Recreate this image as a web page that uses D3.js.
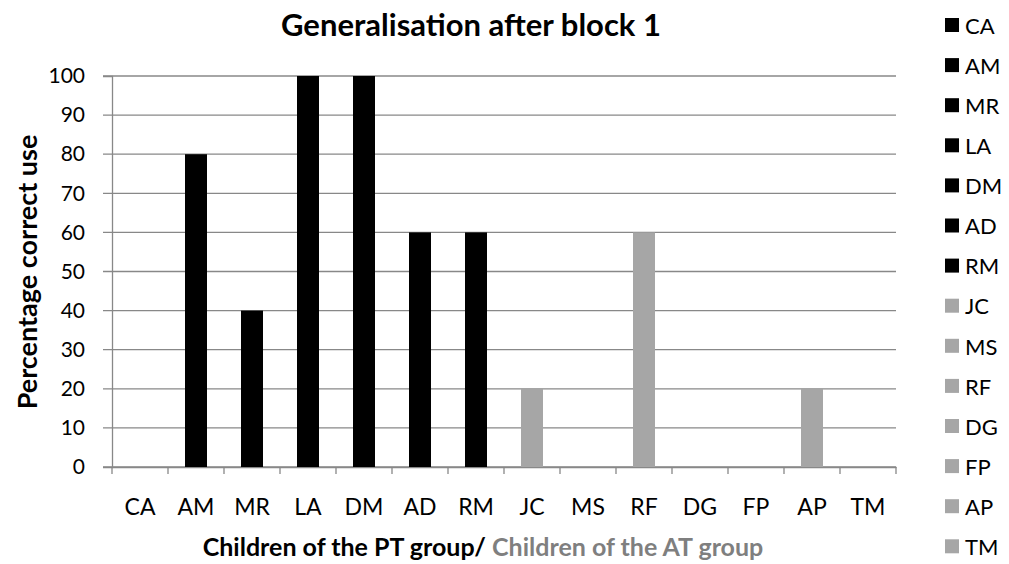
<!DOCTYPE html>
<html>
<head>
<meta charset="utf-8">
<script src="https://cdn.jsdelivr.net/npm/d3@7"></script>
<style>
  body { margin: 0; background: #fff; }
  text { font-family: Lato, "Open Sans", sans-serif; }
</style>
</head>
<body>
<div id="chart"></div>
<script>
// data
let children = ["CA", "AM", "MR", "LA", "DM", "AD", "RM", "JC", "MS", "RF", "DG", "FP", "AP", "TM"];
let group = ["PT", "PT", "PT", "PT", "PT", "PT", "PT", "AT", "AT", "AT", "AT", "AT", "AT", "AT"];
let percentCorrect = [0, 80, 40, 100, 100, 60, 60, 20, 0, 60, 0, 0, 20, 0];
let yTicks = [0, 10, 20, 30, 40, 50, 60, 70, 80, 90, 100];

let svgWidth = 1009;
let svgHeight = 564;
let margin = { top: 76, right: 113, bottom: 97, left: 112 };
let width = svgWidth - margin.left - margin.right;
let height = svgHeight - margin.top - margin.bottom;

let colour = { PT: "#000000", AT: "#a6a6a6" };

let svg = d3.select("#chart").append("svg")
  .attr("width", svgWidth)
  .attr("height", svgHeight);

let chartGroup = svg.append("g")
  .attr("transform", `translate(${margin.left},${margin.top})`);

let xScale = d3.scaleBand().domain(children).range([0, width]);
let yScale = d3.scaleLinear().domain([0, 100]).range([height, 0]);

// gridlines
chartGroup.selectAll(".grid")
  .data(yTicks)
  .enter()
  .append("line")
  .attr("x1", -9)
  .attr("x2", width)
  .attr("y1", d => yScale(d))
  .attr("y2", d => yScale(d))
  .attr("stroke", "#888888")
  .attr("stroke-width", 1.3);

// y axis
let yAxis = chartGroup.append("g")
  .call(d3.axisLeft(yScale).tickValues(yTicks).tickSize(9).tickPadding(18));
yAxis.select(".domain").attr("stroke", "#888888").attr("stroke-width", 1.3);
yAxis.selectAll(".tick line").remove();
yAxis.selectAll("text")
  .attr("font-size", "21px")
  .attr("font-family", "Lato, sans-serif")
  .attr("fill", "#000");

// x axis with ticks between categories
let xAxis = chartGroup.append("g")
  .attr("transform", `translate(0,${height})`)
  .call(d3.axisBottom(xScale).tickSize(0).tickPadding(32));
xAxis.select(".domain").attr("stroke", "#888888").attr("stroke-width", 1.3);
xAxis.selectAll("text")
  .attr("font-size", "23px")
  .attr("font-family", "Lato, sans-serif")
  .attr("fill", "#000");
xAxis.selectAll(".sep")
  .data(children.concat(["end"]))
  .enter()
  .append("line")
  .attr("x1", (d, i) => i * xScale.bandwidth())
  .attr("x2", (d, i) => i * xScale.bandwidth())
  .attr("y1", 0)
  .attr("y2", 7)
  .attr("stroke", "#888888")
  .attr("stroke-width", 1.3);

// bars
let barWidth = 22;
chartGroup.selectAll(".bar")
  .data(children)
  .enter()
  .append("rect")
  .attr("x", d => xScale(d) + xScale.bandwidth() / 2 - barWidth / 2)
  .attr("y", (d, i) => yScale(percentCorrect[i]))
  .attr("width", barWidth)
  .attr("height", (d, i) => height - yScale(percentCorrect[i]))
  .attr("fill", (d, i) => colour[group[i]]);

// title
svg.append("text")
  .attr("x", 471)
  .attr("y", 36)
  .attr("text-anchor", "middle")
  .attr("font-size", "31px")
  .attr("font-weight", "bold")
  .text("Generalisation after block 1");

// y axis title
svg.append("text")
  .attr("transform", `translate(37,${272}) rotate(-90)`)
  .attr("text-anchor", "middle")
  .attr("font-size", "27px")
  .attr("font-weight", "bold")
  .text("Percentage correct use");

// x axis title, two colours
let xTitle = svg.append("text")
  .attr("x", 483)
  .attr("y", 556)
  .attr("text-anchor", "middle")
  .attr("font-size", "25px")
  .attr("font-weight", "bold");
xTitle.append("tspan").attr("fill", "#000").text("Children of the PT group/ ");
xTitle.append("tspan").attr("fill", "#7f7f7f").text("Children of the AT group");

// legend
let legend = svg.selectAll(".legend")
  .data(children)
  .enter()
  .append("g")
  .attr("transform", (d, i) => `translate(945,${25 + i * 40.1})`);

legend.append("rect")
  .attr("x", 0)
  .attr("y", -7)
  .attr("width", 14)
  .attr("height", 14)
  .attr("fill", (d, i) => colour[group[i]]);

legend.append("text")
  .attr("x", 20)
  .attr("y", 1)
  .attr("dy", "0.35em")
  .attr("font-size", "22px")
  .text(d => d);
</script>
</body>
</html>
